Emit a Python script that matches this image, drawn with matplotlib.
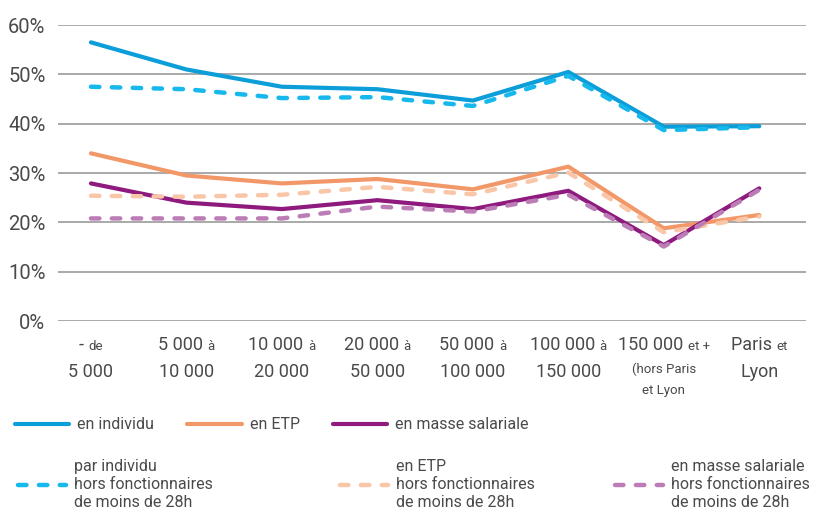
import matplotlib.pyplot as plt
import numpy as np
from matplotlib.offsetbox import TextArea, HPacker, VPacker, AnnotationBbox
from matplotlib.ticker import PercentFormatter

plt.rcParams['font.family'] = ['Roboto', 'DejaVu Sans']

# x labels: each line is a list of (text, big) pieces
tick_labels = [
    [[("- ", True), ("de", False)], [("5 000", True)]],
    [[("5 000 ", True), ("à", False)], [("10 000", True)]],
    [[("10 000 ", True), ("à", False)], [("20 000", True)]],
    [[("20 000 ", True), ("à", False)], [("50 000", True)]],
    [[("50 000 ", True), ("à", False)], [("100 000", True)]],
    [[("100 000 ", True), ("à", False)], [("150 000", True)]],
    [[("150 000 ", True), ("et +", False)], [("(hors Paris", False)], [("et Lyon", False)]],
    [[("Paris ", True), ("et", False)], [("Lyon", True)]],
]

individu = [56.5, 51.0, 47.5, 47.0, 44.7, 50.5, 39.4, 39.5]
individu_hf = [47.5, 47.0, 45.2, 45.4, 43.6, 49.7, 38.7, 39.3]
etp = [34.0, 29.5, 27.9, 28.8, 26.7, 31.3, 18.8, 21.5]
etp_hf = [25.4, 25.2, 25.6, 27.2, 25.7, 30.1, 18.0, 21.2]
masse = [27.9, 24.0, 22.7, 24.5, 22.7, 26.4, 15.4, 26.9]
masse_hf = [20.8, 20.8, 20.8, 23.2, 22.2, 25.6, 15.1, 26.6]

labels = [
    "en individu", "en ETP", "en masse salariale",
    "par individu\nhors fonctionnaires\nde moins de 28h",
    "en ETP\nhors fonctionnaires\nde moins de 28h",
    "en masse salariale\nhors fonctionnaires\nde moins de 28h",
]

BLUE, BLUE_L = '#0B9ED9', '#17B8EC'
ORANGE, ORANGE_L = '#F29868', '#F9C6A8'
PURPLE, PURPLE_L = '#8E1A7E', '#BC7DB6'
TXT = '#4A4A4A'

x = np.arange(len(tick_labels))

fig = plt.figure(figsize=(8.18, 5.12), dpi=100)
ax = fig.add_axes([0.0709, 0.373, 0.9145, 0.578])

solid = dict(lw=3.0, solid_capstyle='round', solid_joinstyle='round')
dashed = dict(lw=3.2, dashes=(1.9, 2.8), dash_capstyle='round', dash_joinstyle='round')

h1, = ax.plot(x, individu, color=BLUE, **solid)
h2, = ax.plot(x, etp, color=ORANGE, **solid)
h3, = ax.plot(x, masse, color=PURPLE, **solid)
h4, = ax.plot(x, individu_hf, color=BLUE_L, **dashed)
h5, = ax.plot(x, etp_hf, color=ORANGE_L, **dashed)
h6, = ax.plot(x, masse_hf, color=PURPLE_L, **dashed)
handles = [h1, h2, h3, h4, h5, h6]

ax.set_xlim(-0.345, 7.49)
ax.set_ylim(0, 60)
ax.set_yticks(range(0, 61, 10))
ax.yaxis.set_major_formatter(PercentFormatter(xmax=100, decimals=0))
ax.yaxis.grid(True, color='#A3A3A3', lw=1.3)
ax.set_axisbelow(True)
for s in ax.spines.values():
    s.set_visible(False)
ax.set_xticks([])
ax.tick_params(axis='y', length=0, pad=9, labelsize=14.5, labelcolor=TXT)

# mixed-size category labels under the axis
for i, lines in enumerate(tick_labels):
    rows = []
    for line in lines:
        parts = [TextArea(t, textprops=dict(fontsize=13 if big else 9.5, color=TXT))
                 for t, big in line]
        rows.append(HPacker(children=parts, align='baseline', pad=0, sep=0))
    box = VPacker(children=rows, align='center', pad=0, sep=6)
    ab = AnnotationBbox(box, (x[i], 0), xycoords=('data', 'axes fraction'),
                        xybox=(0, -11), boxcoords='offset points',
                        box_alignment=(0.5, 1), frameon=False, pad=0)
    ax.add_artist(ab)

# one small legend per entry, placed on two rows
spots = [(0.018, 0.170), (0.229, 0.170), (0.407, 0.170),
         (0.022, 0.053), (0.416, 0.053), (0.752, 0.053)]
for k, (h, lab, (px, py)) in enumerate(zip(handles, labels, spots)):
    leg = fig.legend([h], [lab], loc='center left', bbox_to_anchor=(px, py),
                     frameon=False, fontsize=11.5, borderpad=0, borderaxespad=0,
                     handlelength=3.4 if k < 3 else 3.0, handletextpad=0.5,
                     labelcolor=TXT)
    for t in leg.get_texts():
        t.set_linespacing(1.25)

fig.savefig('out.png', dpi=100)
